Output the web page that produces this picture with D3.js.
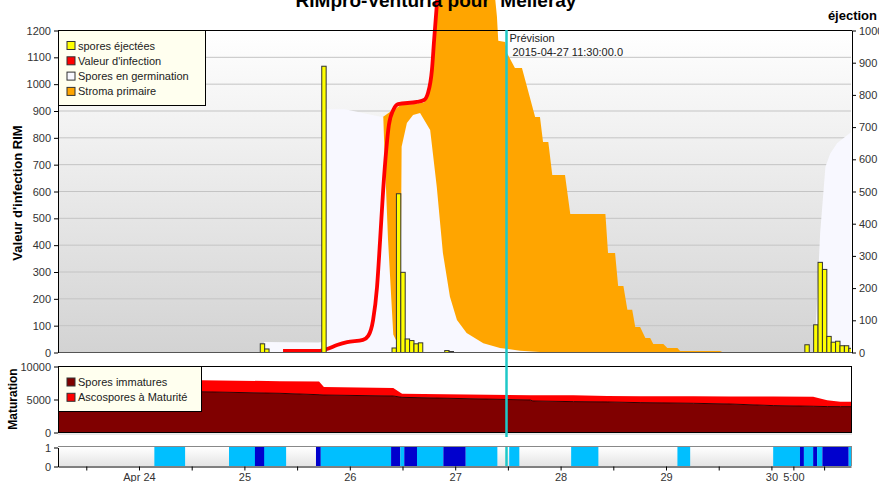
<!DOCTYPE html>
<html>
<head>
<meta charset="utf-8">
<script src="https://cdn.jsdelivr.net/npm/d3@7"></script>
<style>
body { margin: 0; background: #fff; }
svg { display: block; font-family: "Liberation Sans", Arial, sans-serif; }
</style>
</head>
<body>
<div id="chart"></div>
<script>
// Times are hours counted from 2015-04-24 00:00
const t0 = new Date(2015, 3, 24, 0, 0);
const at = h => new Date(t0.getTime() + h * 3600e3);

// spores éjectées (right axis, hourly bars)
const ejectHours  = [28, 29, 42, 58, 59, 60, 61, 62, 63, 64, 70, 71, 152, 154, 155, 156, 157, 158, 159, 160, 161, 162];
const ejectValues = [27, 11, 889, 14, 493, 249, 42, 37, 27, 30, 6, 3, 24, 86, 280, 258, 50, 32, 35, 21, 21, 13];

// Valeur d'infection (null = gap)
const infectHours  = [32.8, 41.2, 42.8, 45.1, 47.4, 51.0, 52.2, 53.3, 54.2, 54.9, 55.6, 56.3, 56.9, 57.9, 59.0, 63.3, 64.9, 65.8, 66.7, 67.2, 67.9, 68.6, 70.0, 100, 158.8, 162.2];
const infectValues = [4, 4, 11, 26, 37, 45, 60, 119, 242, 417, 604, 753, 846, 902, 924, 932, 939, 965, 1051, 1163, 1312, 1442, 1700, null, 2, 3];

// Spores en germination
const germHours  = [-18.5, 27.8, 28.5, 40.8, 41.7, 42.4, 46.9, 53.1, 55.6, 56.7, 57.9, 58.5, 59.5, 59.8, 61.0, 62.4, 64.0, 66.3, 67.8, 69.2, 70.8, 72.4, 74.6, 78.4, 82.2, 86.8, 91.3, 153.8, 154.4, 155.1, 156.3, 157.4, 159.0, 162.2];
const germValues = [0, 0, 37, 35, 37, 905, 905, 883, 875, 420, 65, 45, 45, 765, 853, 883, 891, 827, 616, 369, 206, 119, 71, 33, 15, 5, 0, 0, 200, 444, 690, 740, 779, 820];

// Stroma primaire
const stromaHours  = [-18.5, 55.4, 55.6, 57.2, 58.3, 59.5, 63.3, 64.9, 65.8, 66.7, 67.2, 67.9, 68.6, 80.6, 81.5, 81.8, 83.4, 83.8, 85.6, 87.2, 90.2, 91.3, 92.0, 93.2, 94.1, 97.0, 98.2, 106.2, 106.8, 108.4, 109.1, 110.3, 111.2, 112.3, 113.0, 114.1, 115.3, 116.4, 117.1, 119.4, 120.3, 122.6, 123.2, 132.3, 132.8, 162.2];
const stromaValues = [0, 0, 877, 895, 905, 920, 925, 930, 955, 1040, 1150, 1300, 1400, 1400, 1250, 1160, 1155, 1114, 1058, 1058, 876, 876, 783, 783, 660, 660, 514, 514, 369, 369, 246, 246, 157, 157, 93, 93, 52, 52, 30, 30, 15, 15, 4, 4, 0, 0];

// Maturation
const matHours     = [-18.4, -17.5, 13.9, 32.1, 41.0, 42.1, 57.9, 59.9, 89.1, 89.7, 98.9, 106.6, 114.1, 126.2, 134.6, 144.4, 153.5, 156.7, 159.7, 162.2];
const immatures    = [3200, 6100, 6100, 5860, 5650, 5600, 5450, 5250, 4850, 4700, 4600, 4550, 4450, 4350, 4240, 4000, 3900, 3850, 3840, 3840];
const ascospores   = [0, 1800, 1750, 1840, 2000, 1200, 1200, 550, 700, 850, 950, 900, 970, 1050, 1140, 1370, 1450, 950, 760, 760];

// wetness strip: 1 = light, 2 = dark
const wetStart = [3.5, 20.5, 26.4, 40.3, 41.4, 57.4, 59.5, 60.4, 63.3, 69.3, 74.4, 84.3, 98.4, 122.6, 144.4, 150.5, 151.4, 153.5, 154.4, 155.6, 161.6];
const wetEnd   = [10.5, 33.5, 28.5, 41.4, 57.4, 59.5, 60.4, 63.3, 69.3, 74.4, 81.6, 86.6, 104.6, 125.5, 150.5, 151.4, 153.5, 154.4, 155.6, 161.6, 162.2];
const wetLevel = [1, 1, 2, 2, 1, 2, 1, 2, 1, 2, 1, 1, 1, 1, 1, 2, 1, 2, 1, 2, 1];

const forecastHour = 83.5;   // 2015-04-27 11:30
const dayTicks  = [0, 24, 48, 72, 96, 120, 144];
const dayLabels = ["Apr 24", "25", "26", "27", "28", "29", "30"];
const extraTicks = [149];
const extraLabels = ["5:00"];
const noonTicks = [-12, 12, 36, 60, 84, 108, 132, 156];

const W = 879, H = 482;
const L = 58, R = 851;
const fmt = d3.format("d");

const svg = d3.select("#chart").append("svg")
    .attr("width", W)
    .attr("height", H);

const defs = svg.append("defs");
const g1 = defs.append("linearGradient").attr("id", "bgMain").attr("x1", 0).attr("y1", 0).attr("x2", 0).attr("y2", 1);
g1.append("stop").attr("offset", "0%").attr("stop-color", "#ffffff");
g1.append("stop").attr("offset", "100%").attr("stop-color", "#d3d3d3");
const g2 = defs.append("linearGradient").attr("id", "bgStrip").attr("x1", 0).attr("y1", 0).attr("x2", 0).attr("y2", 1);
g2.append("stop").attr("offset", "0%").attr("stop-color", "#ffffff");
g2.append("stop").attr("offset", "100%").attr("stop-color", "#e4e4e4");
defs.append("clipPath").attr("id", "clipMain")
    .append("rect").attr("x", L).attr("y", -200).attr("width", R - L).attr("height", 352 + 200);
defs.append("clipPath").attr("id", "clipMat")
    .append("rect").attr("x", L).attr("y", 366).attr("width", R - L).attr("height", 66);

// scales
const x = d3.scaleTime().domain([at(-18.44), at(162.12)]).range([L, R]);
const yL = d3.scaleLinear().domain([0, 1200]).range([352, 30]);
const yR = d3.scaleLinear().domain([0, 1000]).range([352, 30]);
const yM = d3.scaleLinear().domain([0, 10000]).range([432, 366]);
const yS = d3.scaleLinear().domain([0, 1]).range([466, 447]);

// ---------- main panel ----------
svg.append("rect").attr("x", L).attr("y", 30).attr("width", R - L).attr("height", 322).attr("fill", "url(#bgMain)");

svg.append("g").selectAll("line")
    .data(d3.range(100, 1200, 100))
    .join("line")
    .attr("x1", L).attr("x2", R)
    .attr("y1", d => yL(d) + 0.5).attr("y2", d => yL(d) + 0.5)
    .attr("stroke", "#c4c4c4");

const main = svg.append("g").attr("clip-path", "url(#clipMain)");

const stroma = stromaHours.map((h, i) => ({ t: at(h), v: stromaValues[i] }));
main.append("path")
    .datum(stroma)
    .attr("fill", "#ffa500")
    .attr("d", d3.area().x(d => x(d.t)).y0(yL(0)).y1(d => yL(d.v)));

const germ = germHours.map((h, i) => ({ t: at(h), v: germValues[i] }));
main.append("path")
    .datum(germ)
    .attr("fill", "#f8f8ff")
    .attr("d", d3.area().x(d => x(d.t)).y0(yL(0)).y1(d => yL(d.v)));

const infect = infectHours.map((h, i) => ({ t: at(h), v: infectValues[i] }));
main.append("path")
    .datum(infect)
    .attr("fill", "none")
    .attr("stroke", "#ff0000")
    .attr("stroke-width", 3.8)
    .attr("stroke-linejoin", "round")
    .attr("d", d3.line().defined(d => d.v != null).curve(d3.curveMonotoneX).x(d => x(d.t)).y(d => yL(d.v)));

main.append("g").selectAll("rect")
    .data(ejectHours.map((h, i) => ({ h: h, v: ejectValues[i] })))
    .join("rect")
    .attr("x", d => x(at(d.h - 0.5)) + 0.5)
    .attr("width", d => x(at(d.h + 0.5)) - x(at(d.h - 0.5)))
    .attr("y", d => yR(d.v) + 0.5)
    .attr("height", d => yR(0) - yR(d.v))
    .attr("fill", "#ffff00")
    .attr("stroke", "#333")
    .attr("stroke-width", 1);

// top border
svg.append("line").attr("x1", L).attr("x2", R + 1).attr("y1", 30.5).attr("y2", 30.5).attr("stroke", "#000");
svg.append("line").attr("x1", L).attr("x2", R + 1).attr("y1", 352.5).attr("y2", 352.5).attr("stroke", "#555");

svg.append("g").attr("transform", `translate(${L},0.5)`)
    .call(d3.axisLeft(yL).tickValues(d3.range(0, 1201, 100)).tickSize(4).tickSizeOuter(0).tickFormat(fmt));
svg.append("g").attr("transform", `translate(${R + 1},0.5)`)
    .call(d3.axisRight(yR).tickValues(d3.range(0, 1001, 100)).tickSize(4).tickSizeOuter(0).tickFormat(fmt));

svg.append("text")
    .attr("x", 436).attr("y", 7)
    .attr("text-anchor", "middle")
    .attr("font-size", 19).attr("font-weight", "bold")
    .style("white-space", "pre")
    .text("RIMpro-Venturia pour  Melleray");

svg.append("text")
    .attr("x", 877).attr("y", 20)
    .attr("text-anchor", "end")
    .attr("font-size", 13).attr("font-weight", "bold")
    .text("éjection");

svg.append("text")
    .attr("transform", "translate(22,193) rotate(-90)")
    .attr("text-anchor", "middle")
    .attr("font-size", 13).attr("font-weight", "bold")
    .text("Valeur d'infection RIM");

// legend (main)
const legMain = [
    { c: "#ffff00", t: "spores éjectées" },
    { c: "#ff0000", t: "Valeur d'infection" },
    { c: "#f8f8ff", t: "Spores en germination" },
    { c: "#ffa500", t: "Stroma primaire" }
];
const lg = svg.append("g");
lg.append("rect").attr("x", L + 0.5).attr("y", 30.5).attr("width", 147).attr("height", 75)
    .attr("fill", "#ffffef").attr("stroke", "#000");
lg.selectAll("g.item").data(legMain).join("g")
    .attr("transform", (d, i) => `translate(67,${41.5 + i * 15.3})`)
    .each(function (d) {
        const s = d3.select(this);
        s.append("rect").attr("width", 8).attr("height", 8).attr("fill", d.c).attr("stroke", "#333");
        s.append("text").attr("x", 11).attr("y", 8).attr("font-size", 11).attr("fill", "#222").text(d.t);
    });

// ---------- maturation panel ----------
svg.append("rect").attr("x", L).attr("y", 366).attr("width", R - L).attr("height", 66).attr("fill", "#fff");

const matData = matHours.map((h, i) => ({ t: at(h), imm: immatures[i], asc: ascospores[i] }));
const stacked = d3.stack().keys(["imm", "asc"])(matData);
const matColors = ["#800000", "#ff0000"];
const mat = svg.append("g").attr("clip-path", "url(#clipMat)");
mat.selectAll("path.layer").data(stacked).join("path")
    .attr("fill", (d, i) => matColors[i])
    .attr("d", d3.area().x(d => x(d.data.t)).y0(d => yM(d[0])).y1(d => yM(d[1])));
mat.append("path")
    .datum(matData)
    .attr("fill", "none").attr("stroke", "#300000").attr("stroke-width", 1)
    .attr("d", d3.line().x(d => x(d.t)).y(d => yM(d.imm)));

svg.append("rect").attr("x", L + 0.5).attr("y", 366.5).attr("width", R - L).attr("height", 66)
    .attr("fill", "none").attr("stroke", "#000");
svg.append("line").attr("x1", L).attr("x2", R + 1).attr("y1", 434).attr("y2", 434).attr("stroke", "#d0d0d0");

svg.append("g").attr("transform", `translate(${L},0.5)`)
    .call(d3.axisLeft(yM).tickValues([0, 5000, 10000]).tickSize(4).tickSizeOuter(0).tickFormat(fmt));

svg.append("text")
    .attr("transform", "translate(17,399) rotate(-90)")
    .attr("text-anchor", "middle")
    .attr("font-size", 12).attr("font-weight", "bold")
    .text("Maturation");

const legMat = [
    { c: "#800000", t: "Spores immatures" },
    { c: "#ff0000", t: "Ascospores à Maturité" }
];
const lm = svg.append("g");
lm.append("rect").attr("x", L + 0.5).attr("y", 366.5).attr("width", 143).attr("height", 45)
    .attr("fill", "#ffffef").attr("stroke", "#000");
lm.selectAll("g.item").data(legMat).join("g")
    .attr("transform", (d, i) => `translate(67,${378 + i * 15.3})`)
    .each(function (d) {
        const s = d3.select(this);
        s.append("rect").attr("width", 8).attr("height", 8).attr("fill", d.c).attr("stroke", "#333");
        s.append("text").attr("x", 11).attr("y", 8).attr("font-size", 11).attr("fill", "#222").text(d.t);
    });

// ---------- wetness strip ----------
svg.append("rect").attr("x", L).attr("y", 447).attr("width", R - L).attr("height", 19).attr("fill", "url(#bgStrip)");
svg.append("g").selectAll("rect")
    .data(wetStart.map((s, i) => ({ s: s, e: wetEnd[i], k: wetLevel[i] })))
    .join("rect")
    .attr("x", d => x(at(d.s)))
    .attr("width", d => x(at(d.e)) - x(at(d.s)))
    .attr("y", yS(1))
    .attr("height", yS(0) - yS(1))
    .attr("fill", d => d.k === 2 ? "#0000cd" : "#00bfff");
svg.append("line").attr("x1", L).attr("x2", R + 1).attr("y1", 446.5).attr("y2", 446.5).attr("stroke", "#888");
svg.append("line").attr("x1", R + 0.5).attr("x2", R + 0.5).attr("y1", 446).attr("y2", 466).attr("stroke", "#888");

svg.append("g").attr("transform", `translate(${L},0.5)`)
    .call(d3.axisLeft(yS).tickValues([0, 1]).tickSize(4).tickSizeOuter(0).tickFormat(fmt));

// time axis
const labelTimes = dayTicks.concat(extraTicks).map(at);
const labelText = dayLabels.concat(extraLabels);
svg.append("g").attr("transform", "translate(0,466.5)")
    .call(d3.axisBottom(x).tickValues(labelTimes).tickSize(4).tickSizeOuter(0)
        .tickFormat((d, i) => labelText[i]));
svg.append("g").attr("transform", "translate(0,466.5)")
    .call(d3.axisBottom(x).tickValues(noonTicks.map(at)).tickSize(4).tickSizeOuter(0).tickFormat(""))
    .select(".domain").remove();

// forecast marker
const xf = Math.round(x(at(forecastHour))) + 0.5;
svg.append("line").attr("x1", xf).attr("x2", xf).attr("y1", 30).attr("y2", 437)
    .attr("stroke", "#1ec8c8").attr("stroke-width", 2.5);
svg.append("line").attr("x1", xf).attr("x2", xf).attr("y1", 447).attr("y2", 466)
    .attr("stroke", "#1ec8c8").attr("stroke-width", 2.5);
svg.append("text").attr("x", xf + 3).attr("y", 42).attr("font-size", 11).attr("fill", "#222").text("Prévision");
svg.append("text").attr("x", xf + 6).attr("y", 56).attr("font-size", 11).attr("fill", "#222").text("2015-04-27 11:30:00.0");

// axis styling
svg.selectAll(".tick text").attr("font-size", 11).attr("fill", "#333")
    .attr("font-family", "Liberation Sans, Arial, sans-serif");
svg.selectAll(".domain").attr("stroke", "#000");
svg.selectAll(".tick line").attr("stroke", "#000");
</script>
</body>
</html>
